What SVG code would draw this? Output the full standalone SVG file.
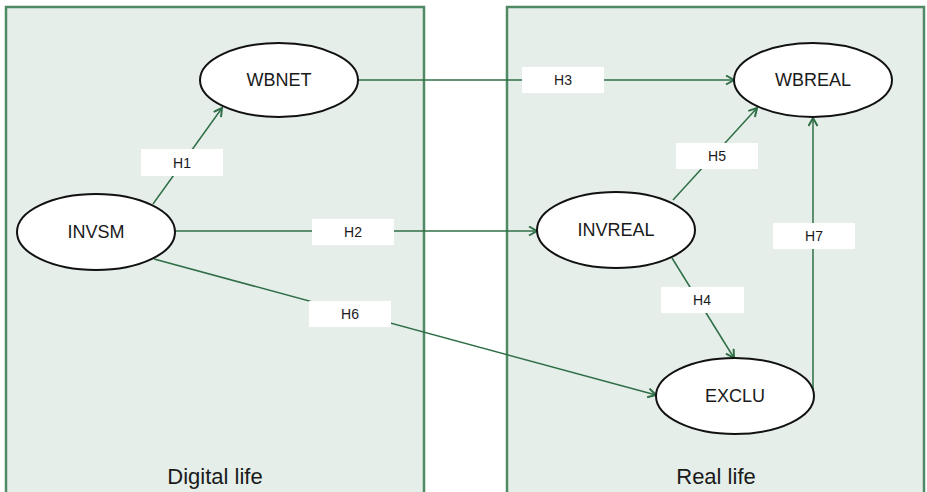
<svg xmlns="http://www.w3.org/2000/svg" width="927" height="492" viewBox="0 0 927 492">
  <style>
    .panel { fill: #e5eee9; stroke: #4f8a65; stroke-width: 2.5; }
    .node ellipse { fill: #ffffff; stroke: #111111; stroke-width: 2; }
    .node text { font-family: "Liberation Sans", Arial, sans-serif; font-size: 18px; fill: #1a1a1a; text-anchor: middle; dominant-baseline: central; }
    .edge { stroke: #2f6e46; stroke-width: 1.5; fill: none; }
    .lbl rect { fill: #ffffff; stroke: none; }
    .lbl text { font-family: "Liberation Sans", Arial, sans-serif; font-size: 14px; fill: #1a1a1a; text-anchor: middle; dominant-baseline: central; }
    .title { font-family: "Liberation Sans", Arial, sans-serif; font-size: 22px; fill: #1a1a1a; text-anchor: middle; }
  </style>
  <defs>
    <marker id="arrow" markerWidth="12" markerHeight="12" refX="9" refY="5" orient="auto" markerUnits="userSpaceOnUse">
      <path d="M1,0.5 L9,5 L1,9.5" fill="none" stroke="#2f6e46" stroke-width="2"/>
    </marker>
  </defs>

  <rect width="927" height="492" fill="#ffffff"/>

  <!-- context panels -->
  <g id="panel-digital">
    <rect class="panel" x="6" y="7" width="418" height="500"/>
    <text class="title" x="215" y="484">Digital life</text>
  </g>
  <g id="panel-real">
    <rect class="panel" x="507" y="7" width="417" height="500"/>
    <text class="title" x="716" y="484">Real life</text>
  </g>

  <!-- connectors -->
  <g id="connectors">
    <line class="edge" x1="153" y1="204" x2="222" y2="108" marker-end="url(#arrow)"/>
    <line class="edge" x1="175" y1="231" x2="537" y2="231" marker-end="url(#arrow)"/>
    <line class="edge" x1="358" y1="80" x2="734" y2="80" marker-end="url(#arrow)"/>
    <line class="edge" x1="673" y1="200" x2="757" y2="108" marker-end="url(#arrow)"/>
    <line class="edge" x1="672" y1="258" x2="734" y2="358" marker-end="url(#arrow)"/>
    <line class="edge" x1="813" y1="392" x2="813" y2="118" marker-end="url(#arrow)"/>
    <line class="edge" x1="154" y1="259" x2="656" y2="395" marker-end="url(#arrow)"/>

    <g class="lbl"><rect x="141" y="149" width="82" height="27"/><text x="182" y="163">H1</text></g>
    <g class="lbl"><rect x="312" y="219" width="82" height="26"/><text x="353" y="232">H2</text></g>
    <g class="lbl"><rect x="522" y="67" width="82" height="26"/><text x="563" y="80">H3</text></g>
    <g class="lbl"><rect x="661" y="287" width="83" height="26"/><text x="702" y="300">H4</text></g>
    <g class="lbl"><rect x="676" y="143" width="82" height="26"/><text x="717" y="156">H5</text></g>
    <g class="lbl"><rect x="309" y="301" width="82" height="26"/><text x="350" y="314">H6</text></g>
    <g class="lbl"><rect x="773" y="223" width="82" height="26"/><text x="814" y="236">H7</text></g>
  </g>

  <!-- constructs -->
  <g id="WBNET" class="node"><ellipse cx="279" cy="80" rx="79" ry="37"/><text x="279" y="80">WBNET</text></g>
  <g id="INVSM" class="node"><ellipse cx="96" cy="232" rx="79" ry="38"/><text x="96" y="232">INVSM</text></g>
  <g id="WBREAL" class="node"><ellipse cx="813" cy="80" rx="79" ry="37"/><text x="813" y="80">WBREAL</text></g>
  <g id="INVREAL" class="node"><ellipse cx="616" cy="230" rx="79" ry="38"/><text x="616" y="230">INVREAL</text></g>
  <g id="EXCLU" class="node"><ellipse cx="735" cy="396" rx="79" ry="38"/><text x="735" y="396">EXCLU</text></g>
</svg>
